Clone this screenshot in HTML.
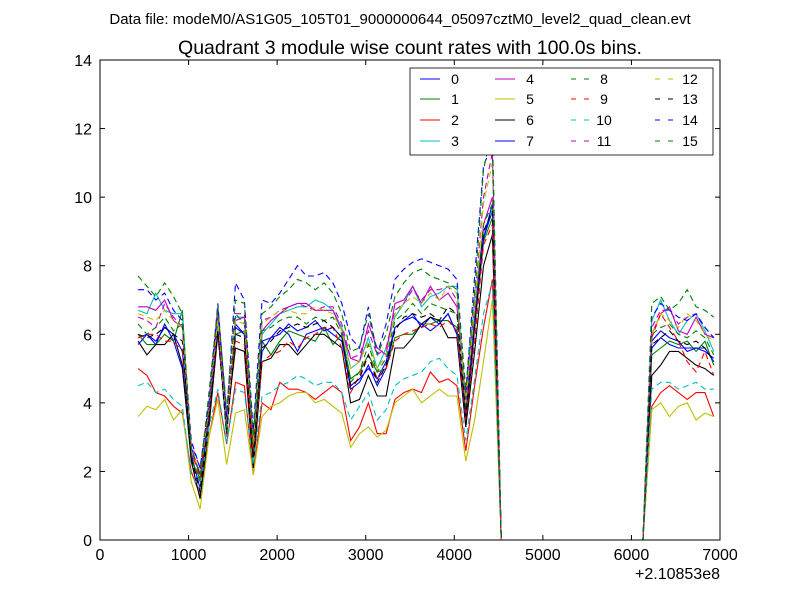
<!DOCTYPE html>
<html><head><meta charset="utf-8"><style>
body{margin:0;background:#fff;}
svg{font-family:"Liberation Sans","DejaVu Sans",sans-serif;}
</style></head><body>
<svg id="chart" width="800" height="600" xmlns="http://www.w3.org/2000/svg">
<rect x="0" y="0" width="800" height="600" fill="#fff"/>
<text x="400" y="24" text-anchor="middle" font-size="15">Data file: modeM0/AS1G05_105T01_9000000644_05097cztM0_level2_quad_clean.evt</text>
<text x="410" y="54" text-anchor="middle" font-size="19.5">Quadrant 3 module wise count rates with 100.0s bins.</text>
<g id="plot"></g>
<g id="axes"></g>
<g id="legend"></g>
</svg>
<script>
const times = [430,530,630,730,830,930,1030,1130,1230,1330,1430,1530,1630,1730,1830,1930,2030,2130,2230,2330,2430,2530,2630,2730,2830,2930,3030,3130,3230,3330,3430,3530,3630,3730,3830,3930,4030,4130,4230,4330,4430,4530,4630,4730,4830,4930,5030,5130,5230,5330,5430,5530,5630,5730,5830,5930,6030,6130,6230,6330,6430,6530,6630,6730,6830,6930];
const s0 = [5.9,6.0,5.7,6.3,5.8,5.0,2.5,1.5,3.6,6.4,3.3,6.2,6.0,2.6,5.5,5.9,6.2,6.0,5.5,6.0,6.1,6.2,6.0,5.8,4.5,4.7,5.0,4.7,5.2,6.2,6.4,6.6,6.2,6.5,6.3,6.6,6.0,3.3,6.2,8.8,9.6,0, 0,0,0,0,0,0,0,0,0,0,0,0,0,0,0,0, 5.6,5.9,5.7,5.6,5.6,5.6,5.5,5.3];
const s1 = [6.0,5.7,5.7,6.0,5.8,6.7,2.3,1.8,3.8,6.3,3.2,6.0,6.1,2.6,5.8,5.4,5.8,6.1,6.0,5.9,5.8,6.2,5.7,6.0,4.7,4.9,5.4,4.9,5.0,5.9,6.0,6.0,6.3,6.3,6.4,6.4,6.2,3.8,6.2,8.7,9.4,0, 0,0,0,0,0,0,0,0,0,0,0,0,0,0,0,0, 5.4,5.6,5.8,5.7,5.8,5.5,5.8,5.1];
const s2 = [5.0,4.8,4.3,4.2,3.9,3.7,2.0,1.3,3.0,4.3,2.8,4.6,4.5,1.9,4.0,3.8,4.6,4.4,4.4,4.3,4.1,4.3,4.5,4.3,2.9,3.3,4.0,3.1,3.1,4.1,4.3,4.4,4.3,4.9,4.6,4.7,4.5,2.6,4.5,6.2,7.6,0, 0,0,0,0,0,0,0,0,0,0,0,0,0,0,0,0, 3.9,4.3,4.5,4.3,4.1,4.3,4.3,3.6];
const s3 = [6.7,6.6,7.2,6.7,6.6,6.6,2.6,1.9,3.7,6.3,3.0,6.5,6.5,2.8,6.0,6.3,6.6,6.7,6.8,6.8,7.0,6.9,6.7,6.2,5.0,5.2,5.9,5.0,5.6,6.5,6.9,7.4,6.8,7.1,7.2,7.4,7.4,4.0,7.0,9.0,9.6,0, 0,0,0,0,0,0,0,0,0,0,0,0,0,0,0,0, 6.4,7.0,6.4,6.0,6.4,6.6,6.1,5.5];
const s4 = [6.8,6.8,6.7,7.0,6.4,6.2,2.5,2.0,3.5,6.8,3.2,6.4,6.5,2.7,6.1,6.4,6.6,6.8,6.9,6.9,6.7,6.7,6.7,6.1,5.3,5.2,6.3,5.6,5.4,6.9,7.0,7.4,6.9,7.4,7.0,7.2,6.8,4.1,6.5,9.2,10.0,0, 0,0,0,0,0,0,0,0,0,0,0,0,0,0,0,0, 6.0,6.6,6.8,6.1,6.0,6.5,6.0,5.9];
const s5 = [3.6,3.9,3.8,4.1,3.5,3.8,1.7,0.9,3.0,4.1,2.2,3.7,3.8,1.9,3.6,3.9,4.0,4.2,4.3,4.3,4.0,4.1,3.9,3.7,2.7,3.1,3.3,3.0,3.2,4.0,4.2,4.4,4.0,4.2,4.4,4.2,4.2,2.3,3.5,5.2,7.0,0, 0,0,0,0,0,0,0,0,0,0,0,0,0,0,0,0, 3.8,4.0,3.6,3.9,4.0,3.5,3.7,3.6];
const s6 = [5.8,5.4,5.7,5.7,6.0,5.1,2.3,1.2,3.3,6.0,3.4,5.6,5.5,2.1,5.2,5.3,5.7,5.7,5.4,5.7,6.0,6.0,5.8,5.6,4.0,4.1,4.8,4.2,4.2,5.6,5.6,5.9,6.3,6.5,6.4,5.9,5.9,3.3,5.5,8.0,8.9,0, 0,0,0,0,0,0,0,0,0,0,0,0,0,0,0,0, 4.8,5.1,5.5,5.5,5.3,5.1,5.0,4.8];
const s7 = [5.7,6.0,5.8,6.2,6.0,5.5,2.7,1.9,3.7,6.1,3.3,6.3,6.0,2.8,5.8,5.9,6.0,6.3,6.1,6.2,6.4,6.1,6.2,5.9,4.4,4.6,5.1,4.5,5.0,6.2,6.4,6.5,6.3,6.1,6.3,6.6,6.0,3.6,6.3,8.8,9.8,0, 0,0,0,0,0,0,0,0,0,0,0,0,0,0,0,0, 5.8,6.1,5.9,5.8,5.5,5.6,5.6,5.2];
const s8 = [6.3,6.0,6.2,6.5,6.1,6.3,2.4,1.7,3.9,6.5,3.1,6.6,6.3,2.7,6.1,6.2,6.4,6.5,6.5,6.3,6.5,6.4,6.5,6.0,4.6,4.9,5.7,4.9,5.3,6.4,6.6,6.9,6.6,6.9,6.8,6.7,6.6,3.9,6.6,9.2,9.8,0, 0,0,0,0,0,0,0,0,0,0,0,0,0,0,0,0, 6.0,6.2,6.3,6.0,5.9,6.1,5.9,5.4];
const s9 = [5.9,6.0,6.0,5.8,5.8,5.5,2.6,1.8,3.6,6.1,3.6,5.8,5.7,2.5,5.2,5.4,5.5,5.8,5.6,5.9,6.0,6.2,6.2,5.6,4.3,4.8,5.4,4.7,5.0,5.8,6.0,6.1,6.2,6.3,6.2,6.4,6.1,3.5,5.8,8.6,9.2,0, 0,0,0,0,0,0,0,0,0,0,0,0,0,0,0,0, 5.9,6.6,6.2,5.8,5.2,4.9,5.5,4.8];
const s10 = [4.5,4.6,4.3,4.4,4.1,3.9,1.9,1.5,3.3,4.4,2.8,4.4,4.3,2.2,4.2,4.3,4.5,4.6,4.8,4.7,4.5,4.6,4.6,4.3,3.5,3.9,4.3,3.5,3.8,4.5,4.7,4.8,4.9,5.2,5.3,5.0,4.8,2.9,4.7,6.6,7.5,0, 0,0,0,0,0,0,0,0,0,0,0,0,0,0,0,0, 4.4,4.6,4.6,4.4,4.5,4.6,4.4,4.4];
const s11 = [6.5,6.4,6.2,6.9,6.5,6.2,2.8,2.1,4.0,6.5,3.5,6.6,6.6,2.9,6.4,6.5,6.7,6.8,6.9,6.8,6.7,6.8,6.8,6.3,5.3,5.4,6.1,5.4,5.6,6.7,6.9,7.3,7.0,7.3,7.3,7.4,7.0,4.1,7.0,10.0,11.3,0, 0,0,0,0,0,0,0,0,0,0,0,0,0,0,0,0, 6.2,6.7,6.7,6.3,6.5,6.6,6.2,5.9];
const s12 = [6.6,6.5,6.4,6.7,6.4,6.2,2.6,2.0,3.8,6.4,3.2,6.4,6.3,2.8,6.3,6.5,6.7,6.7,6.6,6.6,6.8,6.7,6.6,6.1,5.0,5.2,5.8,5.0,5.4,6.6,6.9,7.1,6.9,7.2,7.0,7.4,7.2,4.0,6.8,9.8,11.0,0, 0,0,0,0,0,0,0,0,0,0,0,0,0,0,0,0, 6.0,6.6,6.4,6.2,6.6,6.4,6.0,5.8];
const s13 = [6.0,5.9,6.0,6.2,6.0,5.8,2.4,1.4,3.6,6.1,3.1,6.0,5.9,2.4,5.6,5.8,6.1,6.2,6.3,6.2,6.3,6.4,6.2,5.9,4.5,4.7,5.4,4.6,5.1,6.1,6.5,6.6,6.5,6.6,6.4,6.8,6.6,3.6,6.2,9.0,9.6,0, 0,0,0,0,0,0,0,0,0,0,0,0,0,0,0,0, 5.7,5.9,6.1,5.8,5.7,5.8,5.6,5.2];
const s14 = [7.3,7.3,7.0,7.2,6.7,6.4,2.9,2.1,4.0,6.9,3.6,7.5,7.0,3.2,7.0,6.9,7.2,7.6,8.0,7.7,7.7,7.8,7.5,6.9,5.9,5.6,6.8,5.4,6.3,7.6,7.9,8.1,8.2,8.1,8.0,7.9,7.6,4.3,7.7,10.9,11.6,0, 0,0,0,0,0,0,0,0,0,0,0,0,0,0,0,0, 6.5,6.9,6.7,6.5,6.4,6.6,6.2,5.9];
const s15 = [7.7,7.4,7.1,7.5,7.1,6.6,2.7,1.9,4.3,6.8,3.8,7.0,6.9,3.0,6.6,6.8,7.1,7.3,7.6,7.5,7.3,7.5,7.2,6.6,5.5,5.6,6.6,5.4,6.0,7.1,7.5,7.8,7.9,7.7,7.6,7.5,7.3,4.4,7.3,10.8,12.0,0, 0,0,0,0,0,0,0,0,0,0,0,0,0,0,0,0, 6.9,7.1,6.7,6.9,7.3,6.8,6.7,6.5];
const seriesValues = [s0,s1,s2,s3,s4,s5,s6,s7,s8,s9,s10,s11,s12,s13,s14,s15];
const seriesLabels = ["0","1","2","3","4","5","6","7","8","9","10","11","12","13","14","15"];
const xTicks = [0,1000,2000,3000,4000,5000,6000,7000];
const yTicks = [0,2,4,6,8,10,12,14];
const offsetLabel = "+2.10853e8";

const colors = ["#0000ff","#008000","#ff0000","#00bfbf","#bf00bf","#bfbf00","#000000"];
const NS = "http://www.w3.org/2000/svg";
const L=100,R=720,T=60,B=540;
const xS = v => L + (v-0)/(7000-0)*(R-L);
const yS = v => B - (v-0)/(14-0)*(B-T);
function mk(tag, attrs, parent){const e=document.createElementNS(NS,tag);for(const k in attrs)e.setAttribute(k,attrs[k]);parent.appendChild(e);return e;}
const plot=document.getElementById('plot'), axes=document.getElementById('axes'), leg=document.getElementById('legend');

seriesValues.forEach((vals,i)=>{
  const d = vals.map((v,j)=>(j?'L':'M')+xS(times[j]).toFixed(2)+','+yS(v).toFixed(2)).join(' ');
  const a={d:d,fill:'none',stroke:colors[i%7],'stroke-width':1.1};
  if(i>=8) a['stroke-dasharray']='6,4';
  const p=mk('path',a,plot);
  
  
});

const frame=mk('rect',{x:L,y:T,width:R-L,height:B-T,fill:'none',stroke:'#000','stroke-width':1},axes);


xTicks.forEach(t=>{
  const x=xS(t);
  mk('line',{x1:x,y1:B,x2:x,y2:B-5,stroke:'#000'},axes);
  mk('line',{x1:x,y1:T,x2:x,y2:T+5,stroke:'#000'},axes);
  const tx=mk('text',{x:x,y:B+20,'text-anchor':'middle','font-size':16},axes);
  tx.textContent=t;
  
  
});
yTicks.forEach(t=>{
  const y=yS(t);
  mk('line',{x1:L,y1:y,x2:L+5,y2:y,stroke:'#000'},axes);
  mk('line',{x1:R,y1:y,x2:R-5,y2:y,stroke:'#000'},axes);
  const tx=mk('text',{x:L-8,y:y+6,'text-anchor':'end','font-size':16},axes);
  tx.textContent=t;
  
  
});
const off=mk('text',{x:R,y:579,'text-anchor':'end','font-size':16},axes);
off.textContent=offsetLabel;



const lb=mk('rect',{x:410,y:68,width:303,height:87,fill:'#fff',stroke:'#000','stroke-width':0.8},leg);


const colX=[420,495,571,655], txtX=[455,530,604,690], rowY=[79,99,120,141];
seriesLabels.forEach((lab,i)=>{
  const c=Math.floor(i/4), r=i%4;
  const g=mk('g',{},leg);
  
  
  const a={x1:colX[c],y1:rowY[r],x2:colX[c]+20,y2:rowY[r],stroke:colors[i%7],'stroke-width':1.1};
  if(i>=8) a['stroke-dasharray']='5,8';
  mk('line',a,g);
  const t=mk('text',{x:txtX[c],y:rowY[r]+5,'text-anchor':'middle','font-size':14},g);
  t.textContent=lab;
});
</script>
</body></html>
